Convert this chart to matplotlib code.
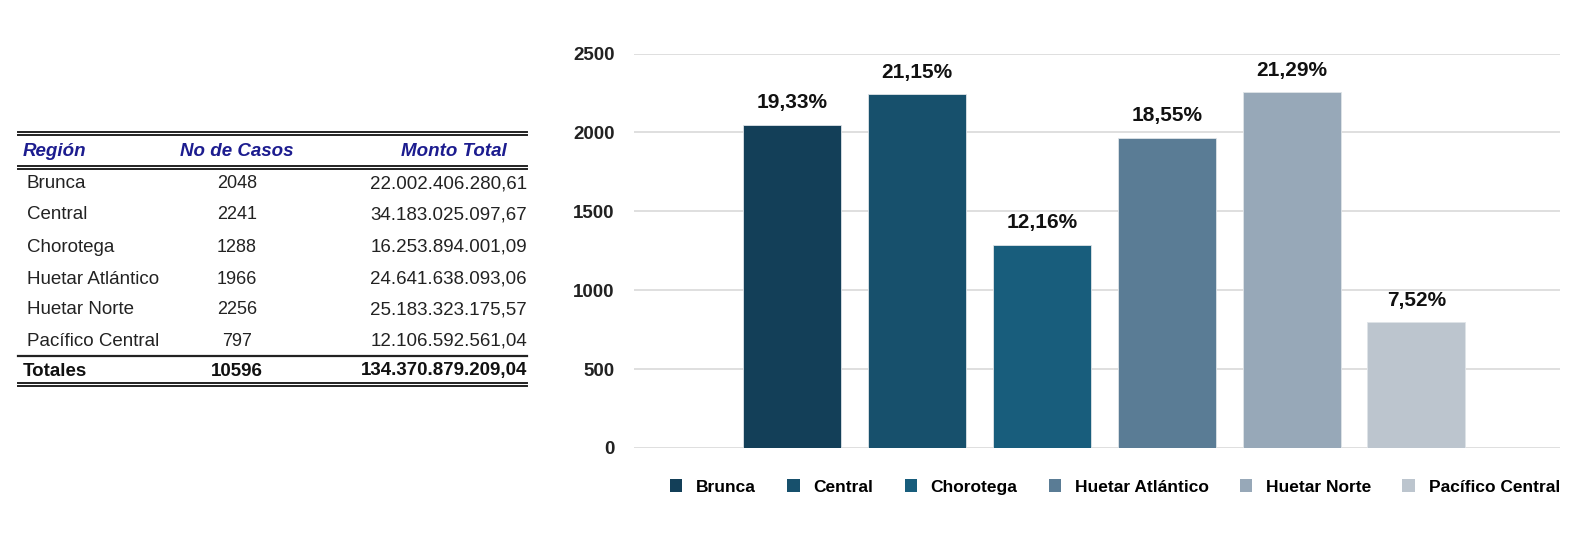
import matplotlib
matplotlib.use("Agg")
import matplotlib.pyplot as plt
from matplotlib.patches import Patch
from matplotlib.lines import Line2D

# data
regiones = ["Brunca", "Central", "Chorotega", "Huetar Atlántico", "Huetar Norte", "Pacífico Central"]
casos = [2048, 2241, 1288, 1966, 2256, 797]
montos = ["22.002.406.280,61", "34.183.025.097,67", "16.253.894.001,09",
          "24.641.638.093,06", "25.183.323.175,57", "12.106.592.561,04"]
porcentajes = ["19,33%", "21,15%", "12,16%", "18,55%", "21,29%", "7,52%"]
total_casos = "10596"
total_monto = "134.370.879.209,04"
y_ticks = [0, 500, 1000, 1500, 2000, 2500]
colores = ["#133f58", "#17506c", "#185d7c", "#5a7c95", "#97a8b8", "#bcc5ce"]

plt.rcParams["font.family"] = ["Liberation Sans", "DejaVu Sans"]

W, H = 1582, 541
fig = plt.figure(figsize=(W / 100, H / 100), dpi=100)


def fx(px):
    return px / W


def fy(py):
    return 1 - py / H


# ---- table on the left ----
def hline(y, lw=1.4):
    fig.add_artist(Line2D([fx(18), fx(527)], [fy(y), fy(y)], color="#222222", lw=lw))


for y in (132, 135, 166, 169, 383, 386):
    hline(y)
hline(356, 1.6)

hdr = dict(fontsize=13.5, fontweight="bold", fontstyle="italic", color="#1c1c8f", va="center")
fig.text(fx(23), fy(151), "Región", ha="left", **hdr)
fig.text(fx(237), fy(151), "No de Casos", ha="center", **hdr)
fig.text(fx(507), fy(151), "Monto Total", ha="right", **hdr)

row_y = [184, 215, 247, 279, 310, 341]
for i, reg in enumerate(regiones):
    y = fy(row_y[i])
    fig.text(fx(27), y, reg, ha="left", va="center", fontsize=13.5, color="#222222")
    fig.text(fx(237), y, str(casos[i]), ha="center", va="center", fontsize=13, color="#222222")
    fig.text(fx(527), y, montos[i], ha="right", va="center", fontsize=13.5, color="#222222")

tot = dict(fontsize=13.5, fontweight="bold", color="#111111", va="center")
fig.text(fx(23), fy(371), "Totales", ha="left", **tot)
fig.text(fx(237), fy(371), total_casos, ha="center", **tot)
fig.text(fx(527), fy(371), total_monto, ha="right", **tot)

# ---- bar chart on the right ----
ax = fig.add_axes([fx(634), fy(448), fx(1560) - fx(634), fy(53.5) - fy(448)])
x = list(range(len(regiones)))
bars = ax.bar(x, casos, width=0.785, color=colores, edgecolor="#dfe4e8", linewidth=0.6, zorder=3)
for b, p in zip(bars, porcentajes):
    ax.annotate(p, (b.get_x() + b.get_width() / 2, b.get_height()),
                xytext=(0, 9), textcoords="offset points",
                ha="center", va="bottom", fontsize=15, fontweight="bold", color="#111111")

ax.set_xlim(-1.266, 6.15)
ax.set_ylim(0, 2500)
ax.set_yticks(y_ticks)
ax.set_yticklabels([str(v) for v in y_ticks], fontsize=13.5, fontweight="bold", color="#222222")
ax.set_xticks([])
ax.tick_params(axis="y", length=0, pad=14)
ax.grid(axis="y", color="#d9d9d9", lw=1.2, zorder=0)
for s in ax.spines.values():
    s.set_visible(False)

handles = [Patch(facecolor=c, edgecolor="none", label=r) for c, r in zip(colores, regiones)]
fig.legend(handles=handles, ncol=6, loc="center", bbox_to_anchor=(fx(1115), fy(487)),
           frameon=False, handlelength=0.7, handleheight=0.7, handletextpad=0.8,
           columnspacing=1.8, prop={"size": 12.5, "weight": "bold"})

fig.savefig("out.png", dpi=100, facecolor="white")
